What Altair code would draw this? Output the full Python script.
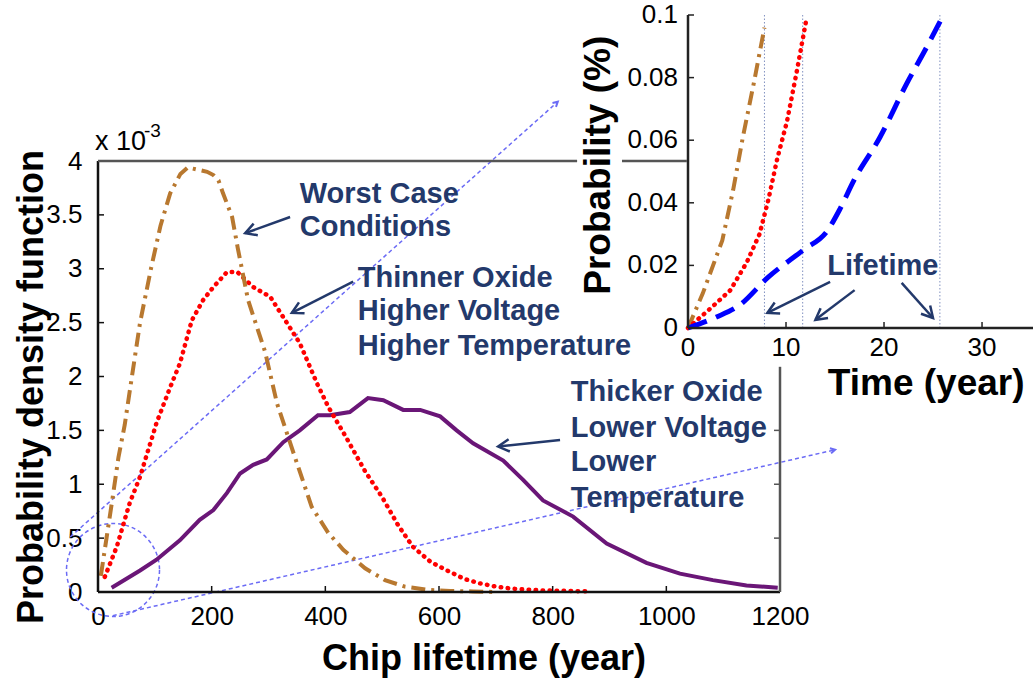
import math
import altair as alt
import pandas as pd

FONT = "Liberation Sans"
NAVY = "#23396B"
BROWN = "#B8782F"
RED = "#FF0000"
PURPLE = "#6A1677"
BLUE = "#0000FF"
ZOOMBLUE = "#6B6BF5"

# ---------------- main plot data (x: chip lifetime in years, y: pdf in 1e-3) -------------
worst_x = [5, 15, 25, 36, 47, 56, 74, 94, 110, 127, 145, 158, 175, 192, 203, 212, 220, 236,
           246, 264, 294, 315, 344, 376, 405, 432, 470, 505, 540, 580, 620, 660, 700]
worst_y = [0.15, 0.5, 0.85, 1.25, 1.55, 1.87, 2.5, 3.02, 3.4, 3.7, 3.88, 3.94, 3.92, 3.9,
           3.87, 3.82, 3.7, 3.48, 3.19, 2.71, 2.23, 1.75, 1.29, 0.79, 0.55, 0.39, 0.22, 0.11,
           0.05, 0.02, 0.01, 0.005, 0.0]

thin_x = [12, 33, 56, 74, 103, 127, 144, 165, 185, 203, 227, 245, 273, 303, 326, 355, 385,
          405, 435, 470, 500, 528, 554, 585, 614, 645, 672, 700, 730, 780, 830, 866]
thin_y = [0.14, 0.42, 0.83, 1.07, 1.57, 1.90, 2.12, 2.52, 2.71, 2.83, 2.97, 2.97, 2.83, 2.74,
          2.55, 2.31, 1.94, 1.72, 1.45, 1.12, 0.88, 0.62, 0.42, 0.28, 0.20, 0.12, 0.08, 0.05,
          0.03, 0.015, 0.01, 0.005]

thick_x = [24, 74, 103, 144, 179, 203, 227, 250, 273, 297, 326, 355, 387, 408, 443, 475, 502,
           537, 567, 602, 631, 660, 713, 748, 783, 836, 895, 965, 1024, 1082, 1141, 1196]
thick_y = [0.04, 0.20, 0.30, 0.48, 0.67, 0.76, 0.92, 1.10, 1.18, 1.23, 1.39, 1.50, 1.64, 1.64,
           1.67, 1.80, 1.78, 1.69, 1.69, 1.63, 1.50, 1.38, 1.22, 1.04, 0.85, 0.70, 0.45, 0.27,
           0.17, 0.11, 0.06, 0.04]

x_ticks = [0, 200, 400, 600, 800, 1000, 1200]
y_ticks = [0, 0.5, 1, 1.5, 2, 2.5, 3, 3.5, 4]

# ---------------- inset data (x: time in years, y: probability in %) ----------------------
in_worst_x = [0, 1.5, 3.5, 4.6, 5.6, 6.7, 7.8]
in_worst_y = [0, 0.011, 0.028, 0.044, 0.061, 0.078, 0.096]
in_thin_x = [0, 2.2, 4.3, 6.0, 7.3, 8.2, 9.1, 10.1, 11.1, 12.1]
in_thin_y = [0, 0.006, 0.012, 0.021, 0.030, 0.041, 0.054, 0.066, 0.082, 0.099]
in_thick_x = [0, 2.9, 5.3, 8.1, 11.8, 14.2, 15.5, 16.9, 19.6, 22.3, 24.4, 25.9]
in_thick_y = [0, 0.0035, 0.0074, 0.016, 0.025, 0.031, 0.038, 0.047, 0.061, 0.078, 0.090, 0.099]
lifetimes = [7.8, 11.7, 25.7]
in_x_ticks = [0, 10, 20, 30]
in_y_ticks = [0, 0.02, 0.04, 0.06, 0.08, 0.1]
in_y_labels = ["0", "0.02", "0.04", "0.06", "0.08", "0.1"]

# ---------------- annotations -------------------------------------------------------------
labels_text = ["Worst Case", "Conditions", "Thinner Oxide", "Higher Voltage",
               "Higher Temperature", "Thicker Oxide", "Lower Voltage", "Lower", "Temperature"]
labels_x = [355, 355, 457, 457, 457, 832, 832, 832, 832]
labels_y = [3.61, 3.30, 2.83, 2.52, 2.20, 1.77, 1.44, 1.12, 0.79]
arrow_tail_x = [338, 449, 813]
arrow_tail_y = [3.48, 2.88, 1.41]
arrow_tip_x = [259, 341, 704]
arrow_tip_y = [3.33, 2.59, 1.35]
in_arrow_tail_x = [14.5, 17.0, 21.8]
in_arrow_tail_y = [0.0147, 0.0121, 0.0144]
in_arrow_tip_x = [8.1, 13.0, 25.0]
in_arrow_tip_y = [0.0048, 0.0026, 0.0032]
zoom_from_x = [-49, 26]
zoom_from_y = [0.51, -0.22]
zoom_to_x = [809, 1297]
zoom_to_y = [4.55, 1.32]

# ---------------- geometry ----------------------------------------------------------------
W, H = 682, 431
XD, YD = [0, 1200], [0, 4]
IXD, IXR = [0, 35.2], [590, 935]
IYD, IYR = [0, 0.1], [167, -146]

XS = alt.Scale(domain=XD, nice=False, zero=False)
YS = alt.Scale(domain=YD, nice=False, zero=False)
IXS = alt.Scale(domain=IXD, range=IXR, nice=False, zero=False)
IYS = alt.Scale(domain=IYD, range=IYR, nice=False, zero=False)

X_AX = alt.Axis(values=x_ticks, format="d", domain=False, ticks=False, grid=False,
                labelFont=FONT, labelFontSize=26, labelColor="#000", labelPadding=11,
                labelFlush=False, labelOverlap=False,
                title="Chip lifetime (year)", titleFont=FONT, titleFontSize=36,
                titleFontWeight="bold", titleColor="#000", titleX=385.5, titleY=77,
                titleAlign="center", titleBaseline="alphabetic")
Y_AX = alt.Axis(values=y_ticks, format="~g", domain=False, ticks=False, grid=False,
                labelFont=FONT, labelFontSize=26, labelColor="#000", labelPadding=16,
                labelFlush=False, labelOverlap=False,
                title="Probability density function", titleFont=FONT, titleFontSize=36,
                titleFontWeight="bold", titleColor="#000", titleAngle=270, titleX=-56,
                titleY=225.5, titleAlign="center", titleBaseline="alphabetic")


def MX(f="x"):
    return alt.X(f"{f}:Q", scale=XS, axis=X_AX)


def MY(f="y"):
    return alt.Y(f"{f}:Q", scale=YS, axis=Y_AX)


def IX(f="x"):
    return alt.X(f"{f}:Q", scale=IXS, axis=None)


def IY(f="y"):
    return alt.Y(f"{f}:Q", scale=IYS, axis=None)


def ang(tx, ty, hx, hy, sx, sy):
    dx = (hx - tx) * sx
    dy = -(hy - ty) * sy
    a = math.degrees(math.atan2(dx, -dy))
    return a % 360


MSX, MSY = W / (XD[1] - XD[0]), H / (YD[1] - YD[0])
ISX = (IXR[1] - IXR[0]) / (IXD[1] - IXD[0])
ISY = (IYR[0] - IYR[1]) / (IYD[1] - IYD[0])

ARROW = "M -0.55 1 L 0 0 L 0.55 1"

# ---------------- main layers -------------------------------------------------------------
df_w = pd.DataFrame({"x": worst_x, "y": worst_y})
df_t = pd.DataFrame({"x": thin_x, "y": thin_y})
df_k = pd.DataFrame({"x": thick_x, "y": thick_y})

l_thick = alt.Chart(df_k).mark_line(color=PURPLE, strokeWidth=4).encode(x=MX(), y=MY())
l_thin = alt.Chart(df_t).mark_line(color=RED, strokeWidth=4.5, strokeDash=[0.5, 6.5],
                                   strokeCap="round").encode(x=MX(), y=MY())
l_worst = alt.Chart(df_w).mark_line(color=BROWN, strokeWidth=4, strokeDash=[14, 6, 3, 6]
                                    ).encode(x=MX(), y=MY())

axes_df = pd.DataFrame({"x": [0, 0], "x2": [1200, 0], "y": [0, 0], "y2": [0, 4]})
frame_df = pd.DataFrame({"x": [0, 922, 1200], "x2": [843, 1036, 1200],
                         "y": [4, 4, 0], "y2": [4, 4, 2.09]})
l_axes = alt.Chart(axes_df).mark_rule(color="#111", strokeWidth=2.5).encode(
    x=MX(), x2="x2:Q", y=MY(), y2="y2:Q")
l_frame = alt.Chart(frame_df).mark_rule(color="#555", strokeWidth=2.5).encode(
    x=MX(), x2="x2:Q", y=MY(), y2="y2:Q")

bt_df = pd.DataFrame({"x": x_ticks[1:-1], "y": [0] * 5})
lt_df = pd.DataFrame({"x": [0] * 7, "y": y_ticks[1:-1]})
rt_df = pd.DataFrame({"x": [1200] * 3, "y": [0.5, 1, 1.5]})
l_bt = alt.Chart(bt_df).mark_rule(color="#111", strokeWidth=1.5, y2Offset=-6).encode(
    x=MX(), y=MY(), y2="y:Q")
l_lt = alt.Chart(lt_df).mark_rule(color="#111", strokeWidth=1.5, x2Offset=6).encode(
    x=MX(), x2="x:Q", y=MY())
l_rt = alt.Chart(rt_df).mark_rule(color="#555", strokeWidth=1.5, x2Offset=-6).encode(
    x=MX(), x2="x:Q", y=MY())

exp_df = pd.DataFrame({"x": [0], "y": [4], "t": ["x 10"]})
l_exp = alt.Chart(exp_df).mark_text(font=FONT, fontSize=27, color="#000", align="left",
                                    baseline="alphabetic", dx=-3, dy=-11).encode(
    x=MX(), y=MY(), text="t:N")
exp2_df = pd.DataFrame({"x": [0], "y": [4], "t": ["-3"]})
l_exp2 = alt.Chart(exp2_df).mark_text(font=FONT, fontSize=19, color="#000", align="left",
                                      baseline="alphabetic", dx=46, dy=-24).encode(
    x=MX(), y=MY(), text="t:N")

lab_df = pd.DataFrame({"x": labels_x, "y": labels_y, "t": labels_text})
l_lab = alt.Chart(lab_df).mark_text(font=FONT, fontSize=29, fontWeight="bold", color=NAVY,
                                    align="left", baseline="alphabetic").encode(
    x=MX(), y=MY(), text="t:N")

arr_df = pd.DataFrame({"x": arrow_tail_x, "y": arrow_tail_y,
                       "x2": arrow_tip_x, "y2": arrow_tip_y})
arr_df["a"] = [ang(a, b, c, d, MSX, MSY) for a, b, c, d in
               zip(arrow_tail_x, arrow_tail_y, arrow_tip_x, arrow_tip_y)]
l_arr = alt.Chart(arr_df).mark_rule(color=NAVY, strokeWidth=2.5).encode(
    x=MX(), y=MY(), x2="x2:Q", y2="y2:Q")
l_arrh = alt.Chart(arr_df).mark_point(shape=ARROW, filled=False, color=NAVY, strokeWidth=2.5,
                                      size=500, opacity=1).encode(
    x=MX("x2"), y=MY("y2"), angle=alt.Angle("a:Q", scale=None))

zoom_df = pd.DataFrame({"x": zoom_from_x, "y": zoom_from_y, "x2": zoom_to_x, "y2": zoom_to_y})
zoom_df["a"] = [ang(a, b, c, d, MSX, MSY) for a, b, c, d in
                zip(zoom_from_x, zoom_from_y, zoom_to_x, zoom_to_y)]
l_zoom = alt.Chart(zoom_df).mark_rule(color=ZOOMBLUE, strokeWidth=1.5, strokeDash=[4, 3]
                                      ).encode(x=MX(), y=MY(), x2="x2:Q", y2="y2:Q")
l_zoomh = alt.Chart(zoom_df).mark_point(shape=ARROW, filled=False, color=ZOOMBLUE,
                                        strokeWidth=2, size=90, opacity=1).encode(
    x=MX("x2"), y=MY("y2"), angle=alt.Angle("a:Q", scale=None))
circ_df = pd.DataFrame({"x": [26.4], "y": [0.204]})
l_circ = alt.Chart(circ_df).mark_point(shape="circle", filled=False, color=ZOOMBLUE,
                                       strokeWidth=1.5, strokeDash=[4, 3], size=8650,
                                       opacity=1).encode(x=MX(), y=MY())

main = alt.layer(l_zoom, l_zoomh, l_circ, l_thick, l_thin, l_worst, l_axes, l_frame, l_bt,
                 l_lt, l_rt, l_exp, l_exp2, l_lab, l_arr, l_arrh)

# ---------------- inset layers ------------------------------------------------------------
i_w = alt.Chart(pd.DataFrame({"x": in_worst_x, "y": in_worst_y})).mark_line(
    color=BROWN, strokeWidth=4, strokeDash=[14, 6, 3, 6]).encode(x=IX(), y=IY())
i_t = alt.Chart(pd.DataFrame({"x": in_thin_x, "y": in_thin_y})).mark_line(
    color=RED, strokeWidth=4.5, strokeDash=[0.5, 6.5], strokeCap="round").encode(x=IX(), y=IY())
i_k = alt.Chart(pd.DataFrame({"x": in_thick_x, "y": in_thick_y})).mark_line(
    color=BLUE, strokeWidth=5, strokeDash=[20, 10], interpolate="monotone").encode(x=IX(), y=IY())

life_df = pd.DataFrame({"x": lifetimes, "y": [0] * 3, "y2": [0.1] * 3})
i_life = alt.Chart(life_df).mark_rule(color="#8090C0", strokeWidth=1, strokeDash=[1.5, 2]
                                      ).encode(x=IX(), y=IY(), y2="y2:Q")

iax_df = pd.DataFrame({"x": [0, 0], "x2": [35.2, 0], "y": [0, 0], "y2": [0, 0.1]})
i_ax = alt.Chart(iax_df).mark_rule(color="#222", strokeWidth=2.5).encode(
    x=IX(), x2="x2:Q", y=IY(), y2="y2:Q")
ibt_df = pd.DataFrame({"x": in_x_ticks[1:], "y": [0] * 3})
i_bt = alt.Chart(ibt_df).mark_rule(color="#222", strokeWidth=1.5, y2Offset=-6).encode(
    x=IX(), y=IY(), y2="y:Q")
ilt_df = pd.DataFrame({"x": [0] * 5, "y": in_y_ticks[1:]})
i_lt = alt.Chart(ilt_df).mark_rule(color="#222", strokeWidth=1.5, x2Offset=6).encode(
    x=IX(), x2="x:Q", y=IY())

ixl_df = pd.DataFrame({"x": in_x_ticks, "y": [0] * 4, "t": [str(v) for v in in_x_ticks]})
i_xl = alt.Chart(ixl_df).mark_text(font=FONT, fontSize=26, color="#000", align="center",
                                   baseline="top", dy=7).encode(x=IX(), y=IY(), text="t:N")
iyl_df = pd.DataFrame({"x": [0] * 6, "y": in_y_ticks, "t": in_y_labels})
i_yl = alt.Chart(iyl_df).mark_text(font=FONT, fontSize=26, color="#000", align="right",
                                   baseline="middle", dx=-10).encode(x=IX(), y=IY(), text="t:N")

ity_df = pd.DataFrame({"x": [0], "y": [0.052], "t": ["Probability (%)"]})
i_ty = alt.Chart(ity_df).mark_text(font=FONT, fontSize=37, fontWeight="bold", color="#000",
                                   angle=270, align="center", baseline="alphabetic",
                                   dy=-78).encode(x=IX(), y=IY(), text="t:N")
itx_df = pd.DataFrame({"x": [24.3], "y": [0], "t": ["Time (year)"]})
i_tx = alt.Chart(itx_df).mark_text(font=FONT, fontSize=37, fontWeight="bold", color="#000",
                                   align="center", baseline="alphabetic", dy=67).encode(
    x=IX(), y=IY(), text="t:N")

ilab_df = pd.DataFrame({"x": [14.2], "y": [0.0169], "t": ["Lifetime"]})
i_lab = alt.Chart(ilab_df).mark_text(font=FONT, fontSize=29, fontWeight="bold", color=NAVY,
                                     align="left", baseline="alphabetic").encode(
    x=IX(), y=IY(), text="t:N")
iarr_df = pd.DataFrame({"x": in_arrow_tail_x, "y": in_arrow_tail_y,
                        "x2": in_arrow_tip_x, "y2": in_arrow_tip_y})
iarr_df["a"] = [ang(a, b, c, d, ISX, ISY) for a, b, c, d in
                zip(in_arrow_tail_x, in_arrow_tail_y, in_arrow_tip_x, in_arrow_tip_y)]
i_arr = alt.Chart(iarr_df).mark_rule(color=NAVY, strokeWidth=2.5).encode(
    x=IX(), y=IY(), x2="x2:Q", y2="y2:Q")
i_arrh = alt.Chart(iarr_df).mark_point(shape=ARROW, filled=False, color=NAVY, strokeWidth=2.5,
                                       size=500, opacity=1).encode(
    x=IX("x2"), y=IY("y2"), angle=alt.Angle("a:Q", scale=None))

inset = alt.layer(i_life, i_w, i_t, i_k, i_ax, i_bt, i_lt, i_xl, i_yl, i_ty, i_tx, i_lab,
                  i_arr, i_arrh)

chart = alt.layer(main, inset).resolve_scale(x="independent", y="independent").properties(
    width=W, height=H,
    padding={"left": 98, "top": 161, "right": 253, "bottom": 87},
    autosize=alt.AutoSizeParams(type="none"),
    background="white",
).configure_view(stroke="transparent")

chart.save("out.html", embed_options={"renderer": "svg", "actions": False})
